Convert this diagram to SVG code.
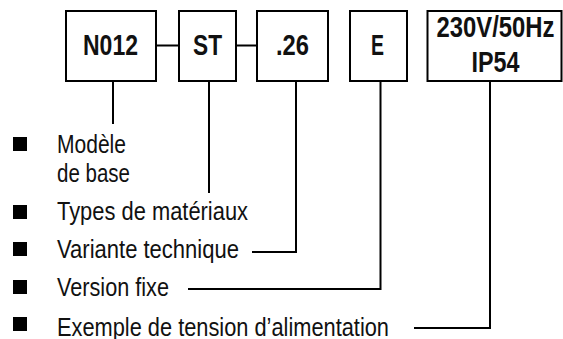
<svg xmlns="http://www.w3.org/2000/svg" width="563" height="339" viewBox="0 0 563 339">
<style>
.box{fill:#fff;stroke:#000;stroke-width:2}
.bt{font-family:"Liberation Sans Narrow","Liberation Sans",Arial,sans-serif;font-weight:bold;font-size:29px;fill:#111;text-anchor:middle}
.lt{font-family:"Liberation Sans Narrow","Liberation Sans",Arial,sans-serif;font-size:25px;fill:#111}
.ln{fill:none;stroke:#000;stroke-width:2}
.bul{fill:#000}
</style>
<rect width="563" height="339" fill="#fff"/>
<g id="connectors">
<line class="ln" x1="156" y1="45.5" x2="179" y2="45.5"/>
<line class="ln" x1="236" y1="45.5" x2="257" y2="45.5"/>
<polyline class="ln" points="113,81 113,124"/>
<polyline class="ln" points="209,81 209,193"/>
<polyline class="ln" points="296,81 296,252 252,252"/>
<polyline class="ln" points="380.5,81 380.5,289 188,289"/>
<polyline class="ln" points="490,81 490,328 414,328"/>
</g>
<g id="n012">
<rect class="box" x="66" y="11" width="90" height="70"/>
<text class="bt" x="110.5" y="55" textLength="55" lengthAdjust="spacingAndGlyphs">N012</text>
</g>
<g id="st">
<rect class="box" x="179" y="11" width="57" height="70"/>
<text class="bt" x="207.5" y="55" textLength="29" lengthAdjust="spacingAndGlyphs">ST</text>
</g>
<g id="v26">
<rect class="box" x="257" y="11" width="71" height="70"/>
<text class="bt" x="292.5" y="55" textLength="33" lengthAdjust="spacingAndGlyphs">.26</text>
</g>
<g id="e">
<rect class="box" x="350" y="11" width="57" height="70"/>
<text class="bt" x="377.5" y="55" textLength="13" lengthAdjust="spacingAndGlyphs">E</text>
</g>
<g id="power">
<rect class="box" x="427.5" y="11" width="134" height="70"/>
<text class="bt" x="495.5" y="37" textLength="118" lengthAdjust="spacingAndGlyphs">230V/50Hz</text>
<text class="bt" x="495.5" y="71.5" textLength="48" lengthAdjust="spacingAndGlyphs">IP54</text>
</g>
<g id="legend">
<rect class="bul" x="13" y="137" width="14" height="14"/>
<text class="lt" x="57" y="153" textLength="69" lengthAdjust="spacingAndGlyphs">Modèle</text>
<text class="lt" x="57" y="182" textLength="73" lengthAdjust="spacingAndGlyphs">de base</text>
<rect class="bul" x="13" y="205" width="14" height="14"/>
<text class="lt" x="57" y="220" textLength="191" lengthAdjust="spacingAndGlyphs">Types de matériaux</text>
<rect class="bul" x="13" y="242" width="14" height="14"/>
<text class="lt" x="57" y="258" textLength="182" lengthAdjust="spacingAndGlyphs">Variante technique</text>
<rect class="bul" x="13" y="280" width="14" height="14"/>
<text class="lt" x="57" y="296" textLength="112" lengthAdjust="spacingAndGlyphs">Version fixe</text>
<rect class="bul" x="13" y="317" width="14" height="14"/>
<text class="lt" x="57" y="336" textLength="332" lengthAdjust="spacingAndGlyphs">Exemple de tension d’alimentation</text>
</g>
</svg>
